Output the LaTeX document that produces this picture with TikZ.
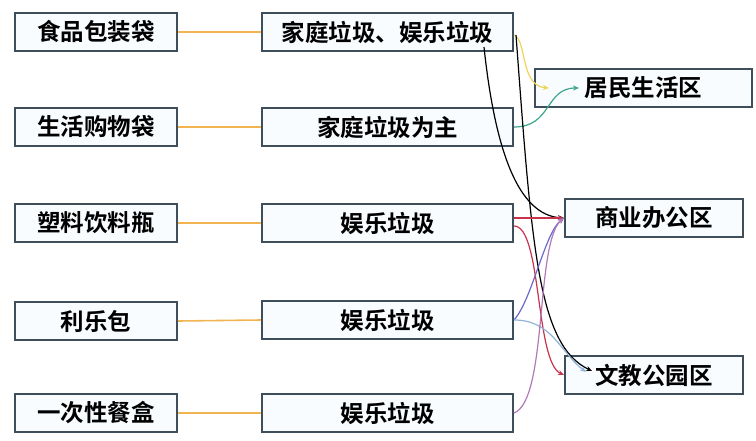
\documentclass[tikz,border=0pt]{standalone}
\usepackage{fontspec}
\newfontfamily\cjk{Noto Sans CJK SC}[BoldFont={Noto Sans CJK SC Bold}]
\usetikzlibrary{arrows.meta,calc}
\definecolor{boxline}{HTML}{3E4E5A}
\definecolor{boxfill}{HTML}{F8FCFF}
\definecolor{feed}{HTML}{F2B451}
\definecolor{cyel}{HTML}{EFD35A}
\definecolor{cteal}{HTML}{3AA58A}
\definecolor{cred}{HTML}{C8324A}
\definecolor{cpur}{HTML}{6A6ACB}
\definecolor{clblue}{HTML}{92B2DA}
\definecolor{cpink}{HTML}{B07AB8}
\tikzset{
  box/.style={draw=boxline, line width=2pt, fill=boxfill, inner sep=0pt,
    minimum height=38pt, font=\cjk\bfseries\fontsize{23.5}{23.5}\selectfont, text=black},
  lbox/.style={box, minimum width=162pt},
  mbox/.style={box, minimum width=251pt},
  rbox/.style={box, minimum width=178pt},
  feedline/.style={draw=feed, line width=1.6pt},
  link/.style={line width=1.2pt, -{Stealth[length=6pt,width=5pt]}}
}
\begin{document}
\begin{tikzpicture}[x=1pt,y=-1pt]
\useasboundingbox (0,0) rectangle (756,440);
% left boxes
\node[lbox] (l1) at (96,32) {食品包装袋};
\node[lbox] (l2) at (96,127) {生活购物袋};
\node[lbox] (l3) at (96,223) {塑料饮料瓶};
\node[lbox] (l4) at (96,321) {利乐包};
\node[lbox] (l5) at (96,413) {一次性餐盒};
% middle boxes
\node[mbox] (m1) at (387.5,32) {家庭垃圾、娱乐垃圾};
\node[mbox] (m2) at (387.5,127) {家庭垃圾为主};
\node[mbox] (m3) at (387.5,223) {娱乐垃圾};
\node[mbox] (m4) at (387.5,320) {娱乐垃圾};
\node[mbox] (m5) at (387.5,413) {娱乐垃圾};
% right boxes
\node[box, minimum width=217pt] (r1) at (643.5,88) {居民生活区};
\node[rbox] (r2) at (654,218) {商业办公区};
\node[rbox] (r3) at (654,375) {文教公园区};
% feed lines
\foreach \i in {1,...,5} \draw[feedline] (l\i.east) -- (m\i.west);
% links
\draw[link, cyel] ($(m1.east)+(0,3)$) .. controls (527,40) and (520,86) .. ($(r1.west)+(15,0)$);
\draw[link, cteal] (m2.east) .. controls (552,127) and (545,88) .. ($(r1.west)+(45,0)$);
\draw[link, black] ($(m1.south east)+(-30,-5)$) .. controls (495,150) and (518,215) .. (r2.west);
\draw[link, black] ($(m1.east)+(2,3)$) .. controls (532,250) and (538,345) .. ($(r3.west)+(28,-4)$);
\draw[link, cred] ($(m3.east)+(0,-5)$) -- (r2.west);
\draw[link, cred] ($(m3.east)+(0,3)$) .. controls (542,226) and (535,362) .. (r3.west);
\draw[link, cpur] (m4.east) .. controls (532,300) and (545,232) .. (r2.west);
\draw[link, clblue] (m4.east) .. controls (552,320) and (560,352) .. ($(r3.west)+(22,-3)$);
\draw[link, cpink] (m5.east) .. controls (548,400) and (535,242) .. (r2.west);
\end{tikzpicture}
\end{document}
